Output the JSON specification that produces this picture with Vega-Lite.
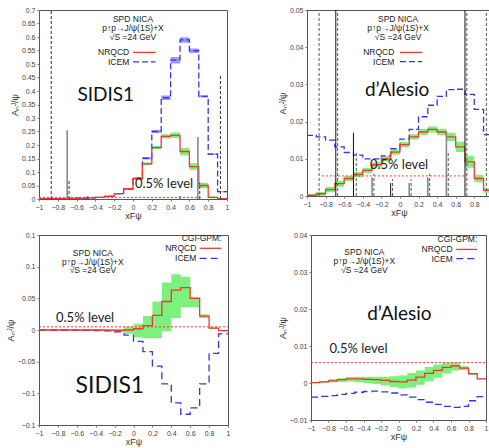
{
"$schema": "https://vega.github.io/schema/vega-lite/v6.json",
"padding": {"left": 5, "top": 5, "right": 0, "bottom": 0},
"background": "white",
"config": {
 "view": {"stroke": "#555", "strokeWidth": 1},
 "axis": {"labelFont": "Liberation Sans", "labelFontSize": 7, "labelColor": "#444", "titleFont": "Liberation Sans", "titleFontSize": 9, "titleFontWeight": "normal", "titleColor": "#333", "tickSize": 2, "tickColor": "#777", "domain": false, "grid": false, "labelPadding": 2, "titlePadding": 2, "labelOverlap": false, "labelFlush": false},
 "axisX": {"titlePadding": 1},
 "text": {"font": "Liberation Sans", "fontSize": 8.5, "color": "#222"}
},
"datasets": {
 "tl": [
  {"x": -1, "nr": 0.001, "nrlo": 0, "nrhi": 0.002, "ic": 0.001, "iclo": 0, "ichi": 0.002},
  {"x": -0.9, "nr": 0.001, "nrlo": 0, "nrhi": 0.002, "ic": 0.001, "iclo": 0, "ichi": 0.002},
  {"x": -0.8, "nr": 0.001, "nrlo": 0, "nrhi": 0.002, "ic": 0.001, "iclo": 0, "ichi": 0.002},
  {"x": -0.7, "nr": 0.002, "nrlo": 0.001, "nrhi": 0.003, "ic": 0.002, "iclo": 0.001, "ichi": 0.003},
  {"x": -0.6, "nr": 0.003, "nrlo": 0.002, "nrhi": 0.004, "ic": 0.003, "iclo": 0.002, "ichi": 0.004},
  {"x": -0.5, "nr": 0.004, "nrlo": 0.003, "nrhi": 0.005, "ic": 0.004, "iclo": 0.003, "ichi": 0.005},
  {"x": -0.4, "nr": 0.006, "nrlo": 0.005, "nrhi": 0.007, "ic": 0.006, "iclo": 0.005, "ichi": 0.007},
  {"x": -0.3, "nr": 0.01, "nrlo": 0.008, "nrhi": 0.012, "ic": 0.01, "iclo": 0.008, "ichi": 0.012},
  {"x": -0.2, "nr": 0.02, "nrlo": 0.018, "nrhi": 0.022, "ic": 0.02, "iclo": 0.018, "ichi": 0.022},
  {"x": -0.1, "nr": 0.038, "nrlo": 0.035, "nrhi": 0.041, "ic": 0.037, "iclo": 0.034, "ichi": 0.04},
  {"x": 0, "nr": 0.075, "nrlo": 0.071, "nrhi": 0.079, "ic": 0.077, "iclo": 0.073, "ichi": 0.081},
  {"x": 0.1, "nr": 0.13, "nrlo": 0.125, "nrhi": 0.135, "ic": 0.151, "iclo": 0.146, "ichi": 0.156},
  {"x": 0.2, "nr": 0.19, "nrlo": 0.184, "nrhi": 0.196, "ic": 0.25, "iclo": 0.244, "ichi": 0.256},
  {"x": 0.3, "nr": 0.232, "nrlo": 0.224, "nrhi": 0.24, "ic": 0.375, "iclo": 0.367, "ichi": 0.383},
  {"x": 0.4, "nr": 0.236, "nrlo": 0.226, "nrhi": 0.246, "ic": 0.514, "iclo": 0.502, "ichi": 0.526},
  {"x": 0.5, "nr": 0.176, "nrlo": 0.162, "nrhi": 0.19, "ic": 0.589, "iclo": 0.579, "ichi": 0.599},
  {"x": 0.6, "nr": 0.12, "nrlo": 0.108, "nrhi": 0.132, "ic": 0.549, "iclo": 0.541, "ichi": 0.557},
  {"x": 0.7, "nr": 0.05, "nrlo": 0.04, "nrhi": 0.06, "ic": 0.38, "iclo": 0.376, "ichi": 0.384},
  {"x": 0.8, "nr": 0.006, "nrlo": 0.003, "nrhi": 0.009, "ic": 0.166, "iclo": 0.163, "ichi": 0.169},
  {"x": 0.9, "nr": 0.001, "nrlo": 0, "nrhi": 0.002, "ic": 0.027, "iclo": 0.025, "ichi": 0.029},
  {"x": 1, "nr": 0.001, "nrlo": 0, "nrhi": 0.002, "ic": 0.027, "iclo": 0.025, "ichi": 0.029}
 ],
 "tlv": [
  {"x": -0.87, "y1": 0, "y2": 0.7, "k": "d"},
  {"x": -0.7, "y1": 0, "y2": 0.255, "k": "g"},
  {"x": -0.68, "y1": 0, "y2": 0.07, "k": "d"},
  {"x": -0.48, "y1": 0, "y2": 0.012, "k": "d"},
  {"x": 0.5, "y1": 0, "y2": 0.012, "k": "d"},
  {"x": 0.69, "y1": 0, "y2": 0.23, "k": "g"},
  {"x": 0.71, "y1": 0, "y2": 0.06, "k": "d"},
  {"x": 0.93, "y1": 0, "y2": 0.46, "k": "d"}
 ],
 "tr": [
  {"x": -1, "nr": 0.0002, "nrlo": 0, "nrhi": 0.0004, "ic": 0.0163},
  {"x": -0.9, "nr": 0.0006, "nrlo": 0.0001, "nrhi": 0.0011, "ic": 0.0159},
  {"x": -0.8, "nr": 0.0017, "nrlo": 0.001, "nrhi": 0.0024, "ic": 0.015},
  {"x": -0.7, "nr": 0.0033, "nrlo": 0.0025, "nrhi": 0.0041, "ic": 0.0132},
  {"x": -0.6, "nr": 0.0047, "nrlo": 0.004, "nrhi": 0.0054, "ic": 0.0117},
  {"x": -0.5, "nr": 0.0058, "nrlo": 0.0051, "nrhi": 0.0065, "ic": 0.011},
  {"x": -0.4, "nr": 0.0069, "nrlo": 0.0062, "nrhi": 0.0076, "ic": 0.01},
  {"x": -0.3, "nr": 0.0084, "nrlo": 0.0077, "nrhi": 0.0091, "ic": 0.01},
  {"x": -0.2, "nr": 0.01, "nrlo": 0.0093, "nrhi": 0.0107, "ic": 0.0108},
  {"x": -0.1, "nr": 0.0118, "nrlo": 0.0111, "nrhi": 0.0125, "ic": 0.0127},
  {"x": 0, "nr": 0.0138, "nrlo": 0.0131, "nrhi": 0.0145, "ic": 0.0153},
  {"x": 0.1, "nr": 0.0159, "nrlo": 0.0152, "nrhi": 0.0166, "ic": 0.0179},
  {"x": 0.2, "nr": 0.0172, "nrlo": 0.0164, "nrhi": 0.018, "ic": 0.0213},
  {"x": 0.3, "nr": 0.0179, "nrlo": 0.0171, "nrhi": 0.0187, "ic": 0.0244},
  {"x": 0.4, "nr": 0.0172, "nrlo": 0.0163, "nrhi": 0.0181, "ic": 0.0268},
  {"x": 0.5, "nr": 0.0159, "nrlo": 0.0148, "nrhi": 0.017, "ic": 0.0286},
  {"x": 0.6, "nr": 0.0132, "nrlo": 0.0118, "nrhi": 0.0146, "ic": 0.0287},
  {"x": 0.7, "nr": 0.0092, "nrlo": 0.0076, "nrhi": 0.0108, "ic": 0.0273},
  {"x": 0.8, "nr": 0.0047, "nrlo": 0.0037, "nrhi": 0.0057, "ic": 0.0233},
  {"x": 0.9, "nr": 0.0015, "nrlo": 0.0009, "nrhi": 0.0021, "ic": 0.0165},
  {"x": 1, "nr": 0.0015, "nrlo": 0.0009, "nrhi": 0.0021, "ic": 0.0165}
 ],
 "trv": [
  {"x": -0.87, "y1": 0, "y2": 0.05, "k": "d"},
  {"x": -0.69, "y1": 0, "y2": 0.05, "k": "s"},
  {"x": -0.67, "y1": 0, "y2": 0.05, "k": "d"},
  {"x": 0.7, "y1": 0, "y2": 0.05, "k": "s"},
  {"x": 0.72, "y1": 0, "y2": 0.05, "k": "d"},
  {"x": 0.93, "y1": 0, "y2": 0.05, "k": "d"},
  {"x": -0.5, "y1": 0, "y2": 0.017, "k": "s"},
  {"x": -0.47, "y1": 0, "y2": 0.012, "k": "d"},
  {"x": -0.3, "y1": 0, "y2": 0.005, "k": "g"},
  {"x": -0.28, "y1": 0, "y2": 0.006, "k": "d"},
  {"x": -0.1, "y1": 0, "y2": 0.0035, "k": "s"},
  {"x": -0.08, "y1": 0, "y2": 0.0045, "k": "d"},
  {"x": 0.1, "y1": 0, "y2": 0.0035, "k": "g"},
  {"x": 0.12, "y1": 0, "y2": 0.0045, "k": "d"},
  {"x": 0.3, "y1": 0, "y2": 0.005, "k": "g"},
  {"x": 0.32, "y1": 0, "y2": 0.006, "k": "d"},
  {"x": 0.5, "y1": 0, "y2": 0.017, "k": "g"},
  {"x": 0.52, "y1": 0, "y2": 0.012, "k": "d"}
 ],
 "bl": [
  {"x": -1, "nr": 0, "nrlo": -0.0008, "nrhi": 0.0008, "ic": 0},
  {"x": -0.9, "nr": 0, "nrlo": -0.0008, "nrhi": 0.0008, "ic": 0},
  {"x": -0.8, "nr": 0, "nrlo": -0.0008, "nrhi": 0.0008, "ic": 0},
  {"x": -0.7, "nr": 0, "nrlo": -0.0008, "nrhi": 0.0008, "ic": -0.0003},
  {"x": -0.6, "nr": 0, "nrlo": -0.0008, "nrhi": 0.0008, "ic": -0.0005},
  {"x": -0.5, "nr": 0, "nrlo": -0.001, "nrhi": 0.001, "ic": -0.0007},
  {"x": -0.4, "nr": 0, "nrlo": -0.001, "nrhi": 0.001, "ic": -0.001},
  {"x": -0.3, "nr": -0.0003, "nrlo": -0.0015, "nrhi": 0.001, "ic": -0.0012},
  {"x": -0.2, "nr": -0.0005, "nrlo": -0.003, "nrhi": 0.002, "ic": -0.003},
  {"x": -0.1, "nr": 0, "nrlo": -0.006, "nrhi": 0.005, "ic": -0.008},
  {"x": 0, "nr": 0.002, "nrlo": -0.012, "nrhi": 0.01, "ic": -0.018},
  {"x": 0.1, "nr": 0.007, "nrlo": -0.013, "nrhi": 0.022, "ic": -0.034},
  {"x": 0.2, "nr": 0.023, "nrlo": -0.013, "nrhi": 0.045, "ic": -0.057},
  {"x": 0.3, "nr": 0.045, "nrlo": -0.002, "nrhi": 0.075, "ic": -0.085},
  {"x": 0.4, "nr": 0.063, "nrlo": 0.019, "nrhi": 0.088, "ic": -0.115},
  {"x": 0.5, "nr": 0.067, "nrlo": 0.036, "nrhi": 0.084, "ic": -0.133},
  {"x": 0.6, "nr": 0.05, "nrlo": 0.036, "nrhi": 0.052, "ic": -0.123},
  {"x": 0.7, "nr": 0.022, "nrlo": 0.019, "nrhi": 0.025, "ic": -0.085},
  {"x": 0.8, "nr": 0.003, "nrlo": 0.002, "nrhi": 0.004, "ic": -0.037},
  {"x": 0.9, "nr": -0.001, "nrlo": -0.0015, "nrhi": -0.0005, "ic": -0.006},
  {"x": 1, "nr": -0.001, "nrlo": -0.0015, "nrhi": -0.0005, "ic": -0.006}
 ],
 "br": [
  {"x": -1, "nr": 0.0001, "nrlo": 0, "nrhi": 0.0002, "ic": -0.0038},
  {"x": -0.9, "nr": 0.0003, "nrlo": 0.0001, "nrhi": 0.0005, "ic": -0.0036},
  {"x": -0.8, "nr": 0.0006, "nrlo": 0.0002, "nrhi": 0.001, "ic": -0.0034},
  {"x": -0.7, "nr": 0.0009, "nrlo": 0.0003, "nrhi": 0.0013, "ic": -0.0031},
  {"x": -0.6, "nr": 0.0011, "nrlo": 0.0004, "nrhi": 0.0016, "ic": -0.0028},
  {"x": -0.5, "nr": 0.0011, "nrlo": 0.0002, "nrhi": 0.0017, "ic": -0.0025},
  {"x": -0.4, "nr": 0.001, "nrlo": 0, "nrhi": 0.0017, "ic": -0.0023},
  {"x": -0.3, "nr": 0.0009, "nrlo": -0.0003, "nrhi": 0.0017, "ic": -0.0022},
  {"x": -0.2, "nr": 0.0007, "nrlo": -0.0007, "nrhi": 0.0017, "ic": -0.0024},
  {"x": -0.1, "nr": 0.0004, "nrlo": -0.0011, "nrhi": 0.0018, "ic": -0.0027},
  {"x": 0, "nr": 0.0003, "nrlo": -0.0015, "nrhi": 0.002, "ic": -0.0032},
  {"x": 0.1, "nr": 0.0008, "nrlo": -0.0012, "nrhi": 0.0027, "ic": -0.0038},
  {"x": 0.2, "nr": 0.0016, "nrlo": -0.0005, "nrhi": 0.0034, "ic": -0.0045},
  {"x": 0.3, "nr": 0.0026, "nrlo": 0.0005, "nrhi": 0.0043, "ic": -0.0052},
  {"x": 0.4, "nr": 0.0034, "nrlo": 0.0014, "nrhi": 0.005, "ic": -0.0058},
  {"x": 0.5, "nr": 0.0042, "nrlo": 0.0026, "nrhi": 0.0055, "ic": -0.0063},
  {"x": 0.6, "nr": 0.0046, "nrlo": 0.0034, "nrhi": 0.0056, "ic": -0.0066},
  {"x": 0.7, "nr": 0.004, "nrlo": 0.0035, "nrhi": 0.0045, "ic": -0.0063},
  {"x": 0.8, "nr": 0.0025, "nrlo": 0.0023, "nrhi": 0.0027, "ic": -0.0048},
  {"x": 0.9, "nr": 0.0011, "nrlo": 0.001, "nrhi": 0.0012, "ic": -0.0037},
  {"x": 1, "nr": 0.0011, "nrlo": 0.001, "nrhi": 0.0012, "ic": -0.0037}
 ]
},
"vconcat": [
 {"hconcat": [
  {"width": 188, "height": 189,
   "encoding": {
     "x": {"type": "quantitative", "scale": {"domain": [-1, 1], "nice": false}, "axis": {"tickCount": 10, "format": "~g", "title": "xFψ", "labelOverlap": false}},
     "y": {"type": "quantitative", "scale": {"domain": [0, 0.7], "nice": false}, "axis": {"tickCount": 14, "format": "~g", "title": "Aₙᴶ/ψ", "labelOverlap": false}}
   },
   "layer": [
    {"data": {"name": "tl"}, "mark": {"type": "area", "interpolate": "step-after", "color": "#8a8aff", "opacity": 0.85, "clip": true},
     "encoding": {"x": {"field": "x"}, "y": {"field": "iclo"}, "y2": {"field": "ichi"}}},
    {"data": {"name": "tl"}, "mark": {"type": "area", "interpolate": "step-after", "color": "#7ef07e", "clip": true},
     "encoding": {"x": {"field": "x"}, "y": {"field": "nrlo"}, "y2": {"field": "nrhi"}}},
    {"data": {"name": "tl"}, "mark": {"type": "line", "interpolate": "step-after", "color": "#3535e6", "strokeDash": [6, 3], "strokeWidth": 1.3, "clip": true},
     "encoding": {"x": {"field": "x"}, "y": {"field": "ic"}}},
    {"data": {"name": "tl"}, "mark": {"type": "line", "interpolate": "step-after", "color": "#ee3a2e", "strokeWidth": 1.3, "clip": true},
     "encoding": {"x": {"field": "x"}, "y": {"field": "nr"}}},
    {"data": {"name": "tlv"}, "transform": [{"filter": "datum.k == 'd'"}], "mark": {"type": "rule", "color": "#333", "strokeDash": [3, 2], "strokeWidth": 1},
     "encoding": {"x": {"field": "x"}, "y": {"field": "y1"}, "y2": {"field": "y2"}}},
    {"data": {"name": "tlv"}, "transform": [{"filter": "datum.k == 'g'"}], "mark": {"type": "rule", "color": "#888", "strokeWidth": 1.6},
     "encoding": {"x": {"field": "x"}, "y": {"field": "y1"}, "y2": {"field": "y2"}}},
    {"data": {"values": [{}]}, "mark": {"type": "rule", "color": "#ff3030", "strokeDash": [2, 2], "strokeWidth": 1},
     "encoding": {"x": {"datum": -1}, "x2": {"datum": 0.72}, "y": {"datum": 0.006}}},
    {"data": {"values": [{}]}, "mark": {"type": "rule", "color": "#ee3a2e", "strokeWidth": 1.3},
     "encoding": {"x": {"datum": 0.0}, "x2": {"datum": 0.24}, "y": {"datum": 0.543}}},
    {"data": {"values": [{}]}, "mark": {"type": "rule", "color": "#3535e6", "strokeWidth": 1.3, "strokeDash": [6, 3]},
     "encoding": {"x": {"datum": 0.0}, "x2": {"datum": 0.24}, "y": {"datum": 0.508}}},
    {"data": {"values": [{}]}, "mark": {"type": "text", "text": "SPD NICA", "align": "center"}, "encoding": {"x": {"datum": 0.0}, "y": {"datum": 0.667}}},
    {"data": {"values": [{}]}, "mark": {"type": "text", "text": "p↑p→J/ψ(1S)+X", "align": "center"}, "encoding": {"x": {"datum": 0.0}, "y": {"datum": 0.632}}},
    {"data": {"values": [{}]}, "mark": {"type": "text", "text": "√S =24 GeV", "align": "center"}, "encoding": {"x": {"datum": 0.0}, "y": {"datum": 0.6}}},
    {"data": {"values": [{}]}, "mark": {"type": "text", "text": "NRQCD", "align": "right"}, "encoding": {"x": {"datum": -0.04}, "y": {"datum": 0.543}}},
    {"data": {"values": [{}]}, "mark": {"type": "text", "text": "ICEM", "align": "right"}, "encoding": {"x": {"datum": -0.04}, "y": {"datum": 0.508}}},
    {"data": {"values": [{}]}, "mark": {"type": "text", "text": "SIDIS1", "align": "center", "font": "Lato", "fontSize": 19, "color": "#111"}, "encoding": {"x": {"datum": -0.29}, "y": {"datum": 0.386}}},
    {"data": {"values": [{}]}, "mark": {"type": "text", "text": "0.5% level", "align": "center", "font": "Lato", "fontSize": 13, "color": "#222"}, "encoding": {"x": {"datum": 0.33}, "y": {"datum": 0.056}}}
   ]},
  {"width": 184, "height": 186,
   "encoding": {
     "x": {"type": "quantitative", "scale": {"domain": [-1, 0.98], "nice": false}, "axis": {"values": [-1, -0.8, -0.6, -0.4, -0.2, 0, 0.2, 0.4, 0.6, 0.8], "format": "~g", "title": "xFψ", "labelOverlap": false}},
     "y": {"type": "quantitative", "scale": {"domain": [0, 0.05], "nice": false}, "axis": {"tickCount": 5, "format": "~g", "title": "Aₙᴶ/ψ", "labelOverlap": false}}
   },
   "layer": [
    {"data": {"name": "tr"}, "mark": {"type": "area", "interpolate": "step-after", "color": "#7ef07e", "clip": true},
     "encoding": {"x": {"field": "x"}, "y": {"field": "nrlo"}, "y2": {"field": "nrhi"}}},
    {"data": {"name": "tr"}, "mark": {"type": "line", "interpolate": "step-after", "color": "#3535e6", "strokeDash": [6, 3], "strokeWidth": 1.3, "clip": true},
     "encoding": {"x": {"field": "x"}, "y": {"field": "ic"}}},
    {"data": {"name": "tr"}, "mark": {"type": "line", "interpolate": "step-after", "color": "#ee3a2e", "strokeWidth": 1.3, "clip": true},
     "encoding": {"x": {"field": "x"}, "y": {"field": "nr"}}},
    {"data": {"name": "trv"}, "transform": [{"filter": "datum.k == 'd'"}], "mark": {"type": "rule", "color": "#555", "strokeDash": [3, 2], "strokeWidth": 1},
     "encoding": {"x": {"field": "x"}, "y": {"field": "y1"}, "y2": {"field": "y2"}}},
    {"data": {"name": "trv"}, "transform": [{"filter": "datum.k == 'g'"}], "mark": {"type": "rule", "color": "#888", "strokeWidth": 1.6},
     "encoding": {"x": {"field": "x"}, "y": {"field": "y1"}, "y2": {"field": "y2"}}},
    {"data": {"name": "trv"}, "transform": [{"filter": "datum.k == 's'"}], "mark": {"type": "rule", "color": "#111", "strokeWidth": 1},
     "encoding": {"x": {"field": "x"}, "y": {"field": "y1"}, "y2": {"field": "y2"}}},
    {"data": {"values": [{}]}, "mark": {"type": "rule", "color": "#ff3030", "strokeDash": [2, 2], "strokeWidth": 1},
     "encoding": {"x": {"datum": -0.84}, "x2": {"datum": 0.72}, "y": {"datum": 0.0054}}},
    {"data": {"values": [{}]}, "mark": {"type": "rule", "color": "#ee3a2e", "strokeWidth": 1.3},
     "encoding": {"x": {"datum": 0.0}, "x2": {"datum": 0.24}, "y": {"datum": 0.0386}}},
    {"data": {"values": [{}]}, "mark": {"type": "rule", "color": "#3535e6", "strokeWidth": 1.3, "strokeDash": [6, 3]},
     "encoding": {"x": {"datum": 0.0}, "x2": {"datum": 0.24}, "y": {"datum": 0.0361}}},
    {"data": {"values": [{}]}, "mark": {"type": "text", "text": "SPD NICA", "align": "center"}, "encoding": {"x": {"datum": -0.02}, "y": {"datum": 0.0476}}},
    {"data": {"values": [{}]}, "mark": {"type": "text", "text": "p↑p→J/ψ(1S)+X", "align": "center"}, "encoding": {"x": {"datum": -0.02}, "y": {"datum": 0.0451}}},
    {"data": {"values": [{}]}, "mark": {"type": "text", "text": "√S =24 GeV", "align": "center"}, "encoding": {"x": {"datum": -0.02}, "y": {"datum": 0.0428}}},
    {"data": {"values": [{}]}, "mark": {"type": "text", "text": "NRQCD", "align": "right"}, "encoding": {"x": {"datum": -0.06}, "y": {"datum": 0.0386}}},
    {"data": {"values": [{}]}, "mark": {"type": "text", "text": "ICEM", "align": "right"}, "encoding": {"x": {"datum": -0.06}, "y": {"datum": 0.0361}}},
    {"data": {"values": [{}]}, "mark": {"type": "text", "text": "d’Alesio", "align": "center", "font": "Lato", "fontSize": 19, "color": "#111"}, "encoding": {"x": {"datum": -0.03}, "y": {"datum": 0.0285}}},
    {"data": {"values": [{}]}, "mark": {"type": "text", "text": "0.5% level", "align": "center", "font": "Lato", "fontSize": 13, "color": "#222"}, "encoding": {"x": {"datum": -0.01}, "y": {"datum": 0.0083}}}
   ]}
 ], "spacing": 47},
 {"hconcat": [
  {"width": 189, "height": 190,
   "encoding": {
     "x": {"type": "quantitative", "scale": {"domain": [-1, 1], "nice": false}, "axis": {"tickCount": 10, "format": "~g", "title": "xFψ", "labelOverlap": false}},
     "y": {"type": "quantitative", "scale": {"domain": [-0.15, 0.15], "nice": false}, "axis": {"tickCount": 6, "format": "~g", "title": "Aₙᴶ/ψ", "labelOverlap": false}}
   },
   "layer": [
    {"data": {"name": "bl"}, "mark": {"type": "area", "interpolate": "step-after", "color": "#7ef07e", "clip": true},
     "encoding": {"x": {"field": "x"}, "y": {"field": "nrlo"}, "y2": {"field": "nrhi"}}},
    {"data": {"name": "bl"}, "mark": {"type": "line", "interpolate": "step-after", "color": "#3535e6", "strokeDash": [7, 4], "strokeWidth": 1.3, "clip": true},
     "encoding": {"x": {"field": "x"}, "y": {"field": "ic"}}},
    {"data": {"name": "bl"}, "mark": {"type": "line", "interpolate": "step-after", "color": "#ee3a2e", "strokeWidth": 1.3, "clip": true},
     "encoding": {"x": {"field": "x"}, "y": {"field": "nr"}}},
    {"data": {"values": [{}]}, "mark": {"type": "rule", "color": "#ff3030", "strokeDash": [2, 2], "strokeWidth": 1},
     "encoding": {"x": {"datum": -1}, "x2": {"datum": 1}, "y": {"datum": 0.005}}},
    {"data": {"values": [{}]}, "mark": {"type": "rule", "color": "#ee3a2e", "strokeWidth": 1.3},
     "encoding": {"x": {"datum": 0.7}, "x2": {"datum": 0.93}, "y": {"datum": 0.129}}},
    {"data": {"values": [{}]}, "mark": {"type": "rule", "color": "#3535e6", "strokeWidth": 1.3, "strokeDash": [7, 4]},
     "encoding": {"x": {"datum": 0.7}, "x2": {"datum": 0.93}, "y": {"datum": 0.113}}},
    {"data": {"values": [{}]}, "mark": {"type": "text", "text": "CGI-GPM:", "align": "right"}, "encoding": {"x": {"datum": 0.93}, "y": {"datum": 0.145}}},
    {"data": {"values": [{}]}, "mark": {"type": "text", "text": "NRQCD", "align": "right"}, "encoding": {"x": {"datum": 0.665}, "y": {"datum": 0.129}}},
    {"data": {"values": [{}]}, "mark": {"type": "text", "text": "ICEM", "align": "right"}, "encoding": {"x": {"datum": 0.665}, "y": {"datum": 0.113}}},
    {"data": {"values": [{}]}, "mark": {"type": "text", "text": "SPD NICA", "align": "center"}, "encoding": {"x": {"datum": -0.43}, "y": {"datum": 0.122}}},
    {"data": {"values": [{}]}, "mark": {"type": "text", "text": "p↑p→J/ψ(1S)+X", "align": "center"}, "encoding": {"x": {"datum": -0.43}, "y": {"datum": 0.108}}},
    {"data": {"values": [{}]}, "mark": {"type": "text", "text": "√S =24 GeV", "align": "center"}, "encoding": {"x": {"datum": -0.43}, "y": {"datum": 0.094}}},
    {"data": {"values": [{}]}, "mark": {"type": "text", "text": "0.5% level", "align": "left", "font": "Lato", "fontSize": 13, "color": "#222"}, "encoding": {"x": {"datum": -0.82}, "y": {"datum": 0.019}}},
    {"data": {"values": [{}]}, "mark": {"type": "text", "text": "SIDIS1", "align": "center", "font": "Lato", "fontSize": 23, "color": "#111"}, "encoding": {"x": {"datum": -0.25}, "y": {"datum": -0.089}}}
   ]},
  {"width": 175, "height": 185,
   "encoding": {
     "x": {"type": "quantitative", "scale": {"domain": [-1, 1], "nice": false}, "axis": {"tickCount": 10, "format": "~g", "title": "xFψ", "labelOverlap": false}},
     "y": {"type": "quantitative", "scale": {"domain": [-0.01, 0.04], "nice": false}, "axis": {"tickCount": 5, "format": "~g", "title": "Aₙᴶ/ψ", "labelOverlap": false}}
   },
   "layer": [
    {"data": {"name": "br"}, "mark": {"type": "area", "interpolate": "step-after", "color": "#7ef07e", "clip": true},
     "encoding": {"x": {"field": "x"}, "y": {"field": "nrlo"}, "y2": {"field": "nrhi"}}},
    {"data": {"name": "br"}, "mark": {"type": "line", "interpolate": "step-after", "color": "#3535e6", "strokeDash": [7, 4], "strokeWidth": 1.3, "clip": true},
     "encoding": {"x": {"field": "x"}, "y": {"field": "ic"}}},
    {"data": {"name": "br"}, "mark": {"type": "line", "interpolate": "step-after", "color": "#ee3a2e", "strokeWidth": 1.3, "clip": true},
     "encoding": {"x": {"field": "x"}, "y": {"field": "nr"}}},
    {"data": {"values": [{}]}, "mark": {"type": "rule", "color": "#ff3030", "strokeDash": [2, 2], "strokeWidth": 1},
     "encoding": {"x": {"datum": -1}, "x2": {"datum": 1}, "y": {"datum": 0.0055}}},
    {"data": {"values": [{}]}, "mark": {"type": "rule", "color": "#ee3a2e", "strokeWidth": 1.3},
     "encoding": {"x": {"datum": 0.66}, "x2": {"datum": 0.9}, "y": {"datum": 0.0361}}},
    {"data": {"values": [{}]}, "mark": {"type": "rule", "color": "#3535e6", "strokeWidth": 1.3, "strokeDash": [7, 4]},
     "encoding": {"x": {"datum": 0.66}, "x2": {"datum": 0.9}, "y": {"datum": 0.0336}}},
    {"data": {"values": [{}]}, "mark": {"type": "text", "text": "CGI-GPM:", "align": "right"}, "encoding": {"x": {"datum": 0.9}, "y": {"datum": 0.0388}}},
    {"data": {"values": [{}]}, "mark": {"type": "text", "text": "NRQCD", "align": "right"}, "encoding": {"x": {"datum": 0.62}, "y": {"datum": 0.0361}}},
    {"data": {"values": [{}]}, "mark": {"type": "text", "text": "ICEM", "align": "right"}, "encoding": {"x": {"datum": 0.62}, "y": {"datum": 0.0336}}},
    {"data": {"values": [{}]}, "mark": {"type": "text", "text": "SPD NICA", "align": "center"}, "encoding": {"x": {"datum": -0.39}, "y": {"datum": 0.0354}}},
    {"data": {"values": [{}]}, "mark": {"type": "text", "text": "p↑p→J/ψ(1S)+X", "align": "center"}, "encoding": {"x": {"datum": -0.39}, "y": {"datum": 0.0329}}},
    {"data": {"values": [{}]}, "mark": {"type": "text", "text": "√S =24 GeV", "align": "center"}, "encoding": {"x": {"datum": -0.39}, "y": {"datum": 0.0306}}},
    {"data": {"values": [{}]}, "mark": {"type": "text", "text": "0.5% level", "align": "left", "font": "Lato", "fontSize": 13, "color": "#222"}, "encoding": {"x": {"datum": -0.79}, "y": {"datum": 0.0092}}},
    {"data": {"values": [{}]}, "mark": {"type": "text", "text": "d’Alesio", "align": "center", "font": "Lato", "fontSize": 19, "color": "#111"}, "encoding": {"x": {"datum": 0.01}, "y": {"datum": 0.0186}}}
   ]}
 ], "spacing": 46}
],
"spacing": 9
}
